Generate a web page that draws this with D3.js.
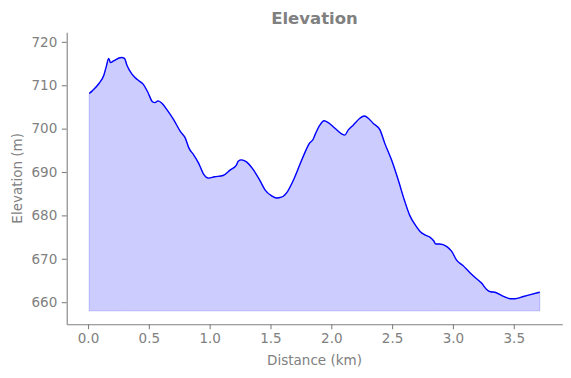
<!DOCTYPE html>
<html>
<head>
<meta charset="utf-8">
<script src="https://cdn.jsdelivr.net/npm/d3@7"></script>
<style>
  html, body { margin: 0; padding: 0; background: #ffffff; }
  svg { display: block; }
  text { font-family: "DejaVu Sans", sans-serif; }
</style>
</head>
<body>
<div id="chart"></div>
<script>
// ---- Data ----
const distanceKm = [
  0.01, 0.035, 0.09, 0.13, 0.15, 0.17, 0.185, 0.21, 0.275, 0.30,
  0.32, 0.36, 0.405, 0.455, 0.49, 0.53, 0.55, 0.575, 0.61, 0.65,
  0.705, 0.76, 0.80, 0.83, 0.87, 0.91, 0.95, 0.99, 1.04, 1.11,
  1.17, 1.22, 1.235, 1.26, 1.30, 1.36, 1.414, 1.455, 1.51, 1.55,
  1.59, 1.64, 1.69, 1.74, 1.78, 1.82, 1.85, 1.865, 1.906, 1.94,
  1.975, 2.03, 2.085, 2.11, 2.14, 2.18, 2.235, 2.27, 2.295, 2.345,
  2.40, 2.44, 2.495, 2.55, 2.60, 2.645, 2.69, 2.73, 2.77, 2.81,
  2.84, 2.86, 2.89, 2.95, 2.99, 3.03, 3.08, 3.14, 3.19, 3.235,
  3.275, 3.31, 3.345, 3.41, 3.47, 3.51, 3.58, 3.645, 3.714
];
const elevationM = [
  708.1, 708.7, 710.4, 712.3, 714.3, 716.2, 715.2, 715.6, 716.4, 716.2,
  714.6, 712.6, 711.3, 710.2, 708.5, 706.2, 706.0, 706.4, 705.8, 704.3,
  702.0, 699.3, 697.8, 695.5, 693.9, 692.0, 689.5, 688.6, 688.9, 689.2,
  690.5, 691.6, 692.5, 692.8, 692.4, 690.5, 688.0, 685.9, 684.5, 684.0,
  684.2, 685.5, 688.2, 691.6, 694.3, 696.6, 697.5, 698.5, 700.8, 701.8,
  701.4, 700.1, 698.8, 698.5, 699.7, 700.8, 702.4, 702.9, 702.6, 701.2,
  699.7, 696.6, 692.8, 688.2, 683.6, 680.0, 677.8, 676.3, 675.5, 675.0,
  674.2, 673.4, 673.4, 672.8, 671.7, 669.7, 668.5, 666.8, 665.5, 664.4,
  663.0, 662.4, 662.3, 661.4, 660.8, 660.8, 661.3, 661.8, 662.3
];
const fillBase = 658;
const xTickValues = [0.0, 0.5, 1.0, 1.5, 2.0, 2.5, 3.0, 3.5];
const yTickValues = [660, 670, 680, 690, 700, 710, 720];
const yDomain = [654.9, 722.2];
const titleText = "Elevation";
const xLabelText = "Distance (km)";
const yLabelText = "Elevation (m)";

// ---- Layout ----
const W = 571, H = 378;
const margin = { left: 66.7, right: 571 - 562.3, top: 32.3, bottom: 378 - 324.3 };
const textColor = "#808080";
const axisColor = "#808080";

const points = distanceKm.map((d, i) => ({ d: d, e: elevationM[i] }));

const svg = d3.select("#chart").append("svg")
  .attr("width", W).attr("height", H);

const xExt = d3.extent(distanceKm);
const xPad = (xExt[1] - xExt[0]) * 0.05;
const x = d3.scaleLinear()
  .domain([xExt[0] - xPad, xExt[1] + xPad])
  .range([margin.left, W - margin.right]);
const y = d3.scaleLinear()
  .domain(yDomain)
  .range([H - margin.bottom, margin.top]);

// fill area
const area = d3.area()
  .x(p => x(p.d))
  .y0(y(fillBase))
  .y1(p => y(p.e))
  .curve(d3.curveMonotoneX);

svg.append("path")
  .datum(points)
  .attr("d", area)
  .attr("fill", "rgba(0,0,255,0.2)")
  .attr("stroke", "rgba(0,0,255,0.2)")
  .attr("stroke-width", 1);

// line
const line = d3.line()
  .x(p => x(p.d))
  .y(p => y(p.e))
  .curve(d3.curveMonotoneX);

svg.append("path")
  .datum(points)
  .attr("d", line)
  .attr("fill", "none")
  .attr("stroke", "#0000ff")
  .attr("stroke-width", 1.4)
  .attr("stroke-linejoin", "round");

// axes
const xAxis = d3.axisBottom(x)
  .tickValues(xTickValues)
  .tickFormat(d3.format(".1f"))
  .tickSize(4.9)
  .tickPadding(4.5)
  .tickSizeOuter(0);
const yAxis = d3.axisLeft(y)
  .tickValues(yTickValues)
  .tickFormat(d3.format("d"))
  .tickSize(4.9)
  .tickPadding(4.5)
  .tickSizeOuter(0);

const gx = svg.append("g")
  .attr("transform", `translate(0,${H - margin.bottom})`)
  .call(xAxis);
const gy = svg.append("g")
  .attr("transform", `translate(${margin.left},0)`)
  .call(yAxis);

[gx, gy].forEach(g => {
  g.select(".domain").attr("stroke", axisColor).attr("stroke-width", 1.1);
  g.selectAll(".tick line").attr("stroke", axisColor).attr("stroke-width", 1.1);
  g.selectAll(".tick text")
    .attr("fill", textColor)
    .style("font-family", "'DejaVu Sans', sans-serif")
    .style("font-size", "13.5px");
});

// labels
svg.append("text")
  .attr("x", (margin.left + W - margin.right) / 2)
  .attr("y", 365)
  .attr("text-anchor", "middle")
  .attr("fill", textColor)
  .style("font-size", "13.5px")
  .text(xLabelText);

svg.append("text")
  .attr("transform", `translate(21.5,${(margin.top + H - margin.bottom) / 2}) rotate(-90)`)
  .attr("text-anchor", "middle")
  .attr("fill", textColor)
  .style("font-size", "13.5px")
  .text(yLabelText);

svg.append("text")
  .attr("x", (margin.left + W - margin.right) / 2)
  .attr("y", 24)
  .attr("text-anchor", "middle")
  .attr("fill", textColor)
  .style("font-size", "16.5px")
  .style("font-weight", "bold")
  .text(titleText);
</script>
</body>
</html>
